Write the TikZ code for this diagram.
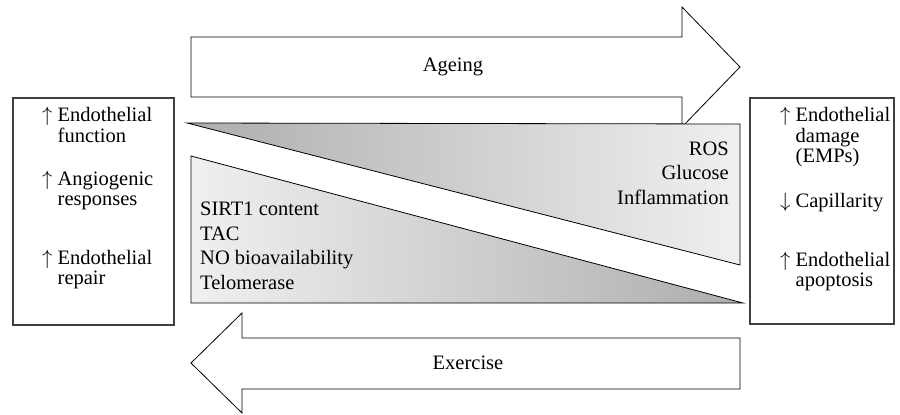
\documentclass[tikz,border=0pt]{standalone}
\usepackage{fontspec}
\setmainfont{Liberation Serif}
\colorlet{gdark}{black!32}
\colorlet{glight}{black!6}
\newcommand{\up}{$\uparrow$}
\newcommand{\down}{$\downarrow$}
\begin{document}
\begin{tikzpicture}[x=1pt,y=-1pt,
	box/.style={draw=black!75,line width=1.2pt},
	outl/.style={draw=black,line width=0.8pt,line join=miter},
	lbl/.style={inner sep=0pt,font=\fontsize{20.5}{20}\selectfont},
	lst/.style={inner sep=0pt,font=\fontsize{20.5}{24.5}\selectfont}]
	\useasboundingbox (0,0) rectangle (900,415);
	% big arrows
	\draw[outl,fill=white] (191,37)--(682,37)--(682,7)--(740,67)--(682,127)--(682,97)--(191,97)--cycle;
	\draw[outl,fill=white] (740,338)--(242,338)--(242,313)--(191,363)--(242,413)--(242,389)--(740,389)--cycle;
	\node[lbl] (age) at (453,67) {Ageing};
	\node[lbl] (exe) at (468,363) {Exercise};
	% wedges
	\draw[outl,left color=gdark,right color=glight] (187,123)--(740,124)--(740,265)--cycle;
	\draw[outl,left color=glight,right color=gdark] (191,156)--(191,303)--(743,303)--cycle;
	\node[lst,anchor=east,align=right] (bad) at (729,173) {ROS\\Glucose\\Inflammation};
	\node[lst,anchor=west,align=left] (good) at (200,246) {SIRT1 content\\TAC\\NO bioavailability\\Telomerase};
	% side boxes
	\draw[box] (13,98) rectangle (174,325);
	\draw[box] (750,98) rectangle (894,324);
	\node[lbl,anchor=west] (lf1) at (42,128) {\begin{tabular}{@{}l@{ }l@{}}\up&Endothelial\\&function\end{tabular}};
	\node[lbl,anchor=west] (lf2) at (42,191) {\begin{tabular}{@{}l@{ }l@{}}\up&Angiogenic\\&responses\end{tabular}};
	\node[lbl,anchor=west] (lf3) at (42,270) {\begin{tabular}{@{}l@{ }l@{}}\up&Endothelial\\&repair\end{tabular}};
	\node[lbl,anchor=west] (rt1) at (780,138) {\begin{tabular}{@{}l@{ }l@{}}\up&Endothelial\\&damage\\&(EMPs)\end{tabular}};
	\node[lbl,anchor=west] (rt2) at (780,203) {\begin{tabular}{@{}l@{ }l@{}}\down&Capillarity\end{tabular}};
	\node[lbl,anchor=west] (rt3) at (780,272) {\begin{tabular}{@{}l@{ }l@{}}\up&Endothelial\\&apoptosis\end{tabular}};
\end{tikzpicture}
\end{document}
